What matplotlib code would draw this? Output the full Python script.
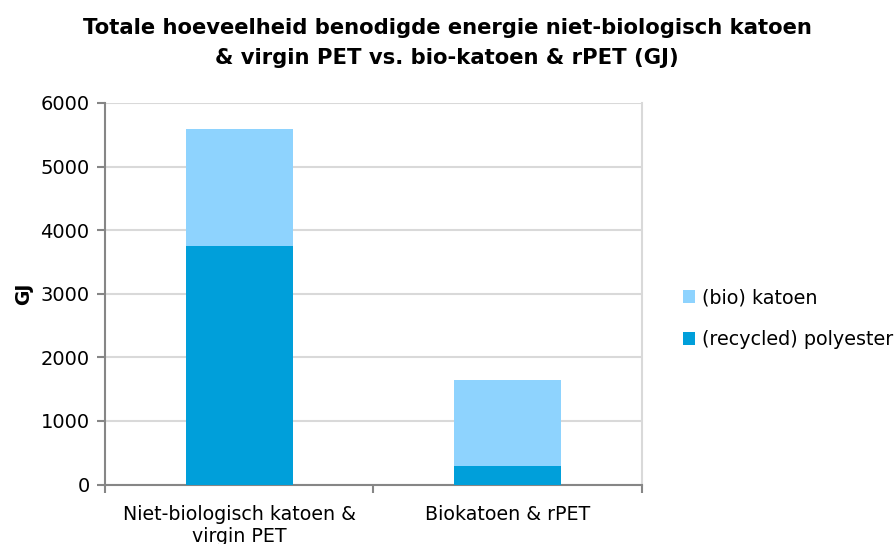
import numpy as np
import matplotlib.pyplot as plt

# values (GJ)
categories = ["Niet-biologisch katoen &\nvirgin PET", "Biokatoen & rPET"]
polyester = [3755, 290]
katoen = [1835, 1360]
series_labels = ["(bio) katoen", "(recycled) polyester"]
y_ticks = [0, 1000, 2000, 3000, 4000, 5000, 6000]

DARK = "#009FDA"
LIGHT = "#8ED3FE"
GRID = "#D9D9D9"
AXIS = "#868686"

plt.rcParams["font.family"] = ["DejaVu Sans"]

fig = plt.figure(figsize=(8.94, 5.44), dpi=100)
ax = fig.add_axes([0.1174, 0.1092, 0.6007, 0.7015])

x = np.arange(len(categories))
b1 = ax.bar(x, polyester, width=0.4, color=DARK, zorder=3)
b2 = ax.bar(x, katoen, width=0.4, bottom=polyester, color=LIGHT, zorder=3)

ax.set_xlim(-0.5, 1.5)
ax.set_ylim(0, 6000)
ax.set_yticks(y_ticks)
ax.yaxis.grid(True, color=GRID, lw=1.5, zorder=0)
ax.set_axisbelow(True)

# category labels centred, ticks at the category boundaries
ax.set_xticks(x)
ax.set_xticklabels(categories, fontsize=13.7, linespacing=1.15)
ax.set_xticks([-0.5, 0.5, 1.5], minor=True)
ax.tick_params(axis="x", which="major", length=0, pad=15)
ax.tick_params(axis="x", which="minor", length=6, width=1.5, color=AXIS, direction="out")
ax.tick_params(axis="y", length=6, width=1.5, color=AXIS, labelsize=14, pad=5)

ax.spines["top"].set_visible(False)
ax.spines["right"].set_color(GRID)
ax.spines["right"].set_linewidth(1.5)
for s in ("left", "bottom"):
    ax.spines[s].set_color(AXIS)
    ax.spines[s].set_linewidth(1.5)

ax.set_ylabel("GJ", fontsize=13.5, fontweight="bold", labelpad=5)

fig.suptitle("Totale hoeveelheid benodigde energie niet-biologisch katoen\n"
             "& virgin PET vs. bio-katoen & rPET (GJ)",
             x=0.5, y=0.966, fontsize=15.2, fontweight="bold", linespacing=1.62)

fig.legend([b2, b1], series_labels, loc="center left",
           bbox_to_anchor=(0.755, 0.414), frameon=False, fontsize=13.8,
           handlelength=0.65, handleheight=0.65, handletextpad=0.35,
           labelspacing=1.2, borderaxespad=0)

fig.savefig("out.png", dpi=100)
